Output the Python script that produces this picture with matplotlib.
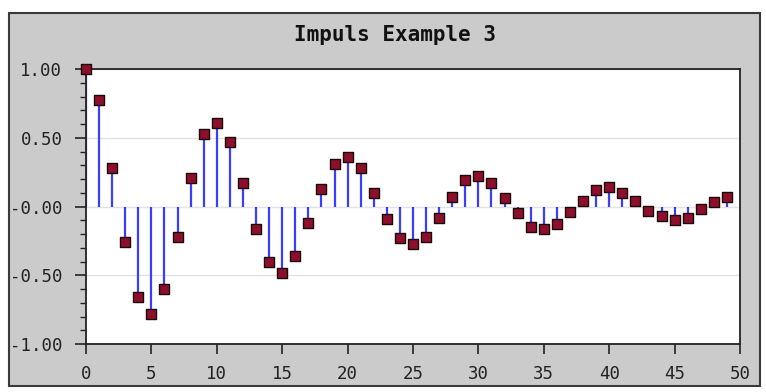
import matplotlib.pyplot as plt
from matplotlib.patches import Rectangle
from matplotlib.ticker import MultipleLocator

# sample index and impulse response values
samples = list(range(50))
values = [1.00, 0.775, 0.28, -0.26, -0.66, -0.78, -0.60, -0.22, 0.21, 0.53,
          0.61, 0.47, 0.17, -0.16, -0.40, -0.48, -0.36, -0.12, 0.13, 0.31,
          0.36, 0.28, 0.10, -0.09, -0.23, -0.27, -0.22, -0.08, 0.07, 0.19,
          0.22, 0.17, 0.06, -0.05, -0.15, -0.16, -0.13, -0.04, 0.04, 0.12,
          0.14, 0.10, 0.04, -0.03, -0.07, -0.10, -0.08, -0.02, 0.03, 0.07]
y_ticks = [-1.0, -0.5, 0.0, 0.5, 1.0]
y_tick_labels = ["-1.00", "-0.50", "-0.00", "0.50", "1.00"]
x_ticks = [0, 5, 10, 15, 20, 25, 30, 35, 40, 45, 50]
title = "Impuls Example 3"

W, H = 766, 392
fig = plt.figure(figsize=(W / 100, H / 100), dpi=100, facecolor="white")

# gray frame around the whole graph
frame = Rectangle((9 / W, 1 - 386 / H), (760 - 9) / W, (386 - 13) / H,
                  transform=fig.transFigure, facecolor="#cbcbcb",
                  edgecolor="#3a3a3a", linewidth=1.5, zorder=-10)
fig.add_artist(frame)

ax = fig.add_axes([86 / W, 1 - 344 / H, (740 - 86) / W, (344 - 69) / H])
ax.set_zorder(1)
ax.set_facecolor("white")

ax.vlines(samples, 0, values, color="#3c3cff", linewidth=1.6, zorder=2)
ax.scatter(samples, values, marker="s", s=42, facecolor="#8e0f2c",
           edgecolor="#1a0a0a", linewidth=1.0, zorder=3, clip_on=False)

ax.set_xlim(0, 50)
ax.set_ylim(-1, 1)
ax.set_xticks(x_ticks)
ax.set_yticks(y_ticks)
ax.set_yticklabels(y_tick_labels)
ax.yaxis.set_minor_locator(MultipleLocator(0.1))
ax.grid(axis="y", which="major", color="#e2e2e2", linewidth=1.0)
ax.set_axisbelow(True)

for side in ["top", "right", "left", "bottom"]:
    ax.spines[side].set_color("#222222")
    ax.spines[side].set_linewidth(1.3)

mono = "DejaVu Sans Mono"
ax.tick_params(axis="y", which="major", direction="out", length=8, width=1.2,
               pad=9, labelsize=12.5, colors="#222222")
ax.tick_params(axis="y", which="minor", direction="out", length=4, width=1.0,
               colors="#222222")
ax.tick_params(axis="x", which="major", direction="out", length=7, width=1.2,
               pad=8, labelsize=12.5, colors="#222222")
for lbl in ax.get_xticklabels() + ax.get_yticklabels():
    lbl.set_family(mono)

fig.text(395 / W, 1 - 35 / H, title, ha="center", va="center",
         fontsize=15, fontweight="bold", family=mono, color="#111111")

fig.savefig("out.png", dpi=100, facecolor="white")
